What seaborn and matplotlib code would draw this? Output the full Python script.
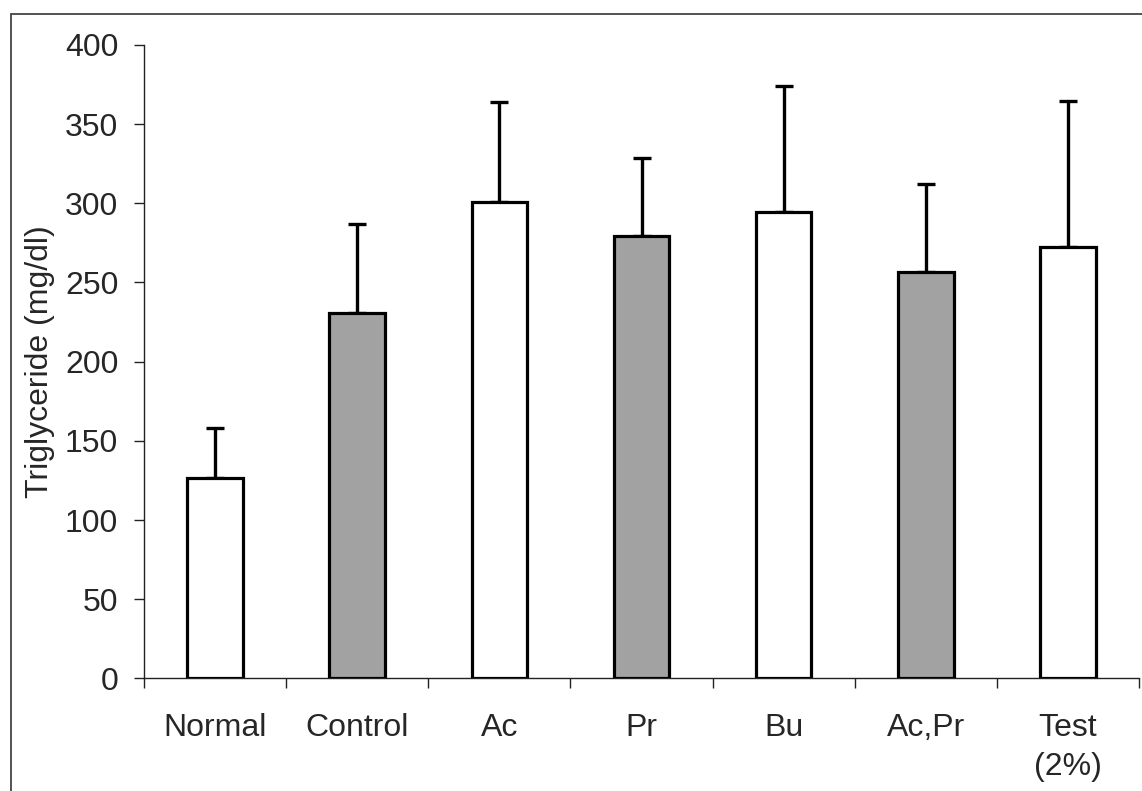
import matplotlib
matplotlib.use("Agg")
import matplotlib.pyplot as plt
import matplotlib.patches as mpatches
import numpy as np
import pandas as pd
import seaborn as sns

# Mean serum triglyceride per diet group, with upper SD
groups = ["Normal", "Control", "Ac", "Pr", "Bu", "Ac,Pr", "Test\n(2%)"]
triglyceride = [126.7, 230.5, 300.8, 279.3, 294.3, 256.4, 272.5]
sd_upper = [31.6, 56.2, 62.9, 49.2, 79.7, 55.9, 92.0]
fill_colors = ["white", "#a2a2a2", "white", "#a2a2a2", "white", "#a2a2a2", "white"]
y_ticks = [0, 50, 100, 150, 200, 250, 300, 350, 400]

sns.set_style("white")
plt.rcParams["font.family"] = ["Liberation Sans", "DejaVu Sans"]

FS = 23
W, H, DPI = 1142, 791, 100
fig = plt.figure(figsize=(W / DPI, H / DPI), dpi=DPI)
ax = fig.add_axes([144 / W, 1 - 678.4 / H, 995 / W, 633.6 / H])

df = pd.DataFrame({"group": groups, "tg": triglyceride})
sns.barplot(data=df, x="group", y="tg", hue="group", palette=fill_colors,
            legend=False, width=0.39, edgecolor="black", linewidth=2.3,
            saturation=1, ax=ax, zorder=3)

pos = np.arange(len(groups))
ax.errorbar(pos, triglyceride, yerr=[np.zeros(len(groups)), sd_upper],
            fmt="none", ecolor="black", elinewidth=2.4, capsize=6.7,
            capthick=2.4, zorder=2)

ax.set_xlim(-0.5, len(groups) - 0.5)
ax.set_ylim(0, 400)
ax.set_yticks(y_ticks)
ax.set_xlabel("")
ax.set_ylabel("Triglyceride (mg/dl)", fontsize=FS, labelpad=7)

for side in ("top", "right"):
    ax.spines[side].set_visible(False)
for side in ("left", "bottom"):
    ax.spines[side].set_linewidth(1.0)
    ax.spines[side].set_color("#222222")

ax.tick_params(axis="y", direction="out", length=7.5, width=1.0,
               color="#222222", labelsize=FS, pad=11, left=True)
# category labels sit under the bars; tick marks sit between categories
ax.set_xticks(pos)
ax.set_xticklabels(groups, linespacing=1.4)
ax.tick_params(axis="x", which="major", length=0, labelsize=FS, pad=25)
ax.set_xticks(np.arange(-0.5, len(groups)), minor=True)
ax.tick_params(axis="x", which="minor", direction="out", length=7,
               width=1.0, color="#222222", bottom=True)
for lab in ax.get_xticklabels():
    lab.set_verticalalignment("top")

# outer frame around the figure
frame = mpatches.Rectangle((11 / W, -0.02), 1.05, 1 - 14 / H + 0.02,
                           transform=fig.transFigure, fill=False,
                           edgecolor="#444444", linewidth=1.3)
fig.patches.append(frame)

fig.savefig("out.png", dpi=DPI)
